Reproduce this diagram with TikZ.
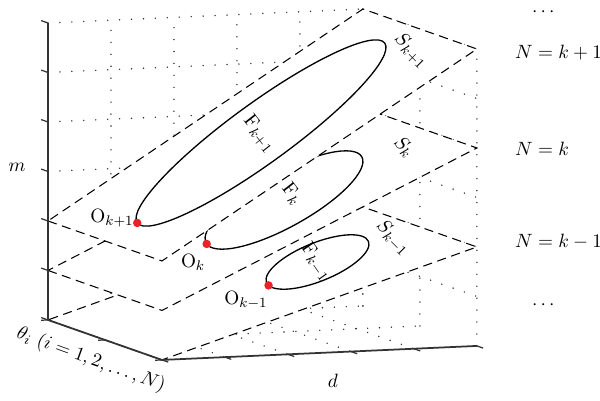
\documentclass[tikz,border=0pt]{standalone}
\usepackage{amsmath}
\definecolor{dotred}{RGB}{235,35,40}
\begin{document}
\begin{tikzpicture}[x=0.02cm,y=-0.02cm,font=\fontsize{11}{13}\selectfont]
\tikzset{
  gridline/.style={draw=black!80, line width=0.9pt, line cap=round, dash pattern=on 0pt off 6.8pt},
  plane/.style={fill=white, draw=black, line width=0.6pt, dash pattern=on 5.2pt off 3.2pt},
  curve/.style={draw=black, line width=0.75pt},
  axisline/.style={draw=black!80, line width=1pt},
  tickline/.style={draw=black!80, line width=0.7pt},
  reddot/.style={fill=dotred},
  lab/.style={inner sep=1pt},
  box3d/.style={shift={(0.96cm,-6.4cm)}, x={(2.28cm,-0.8cm)}, y={(6.3cm,0.28cm)}, z={(0cm,0.99cm)}},
}
\useasboundingbox (0,0) rectangle (600,400);

% ---- background grid on back walls and floor, plus named corners
\begin{scope}[box3d]
  \foreach \d in {0.2,0.4,0.6,0.8,1} \draw[gridline] (0,\d,0) -- (0,\d,6);
  \foreach \zz in {1,...,6} \draw[gridline] (0,0,\zz) -- (0,1,\zz);
  \foreach \t in {0,0.5,1} \draw[gridline] (\t,1,0) -- (\t,1,6);
  \foreach \zz in {1,...,6} \draw[gridline] (0,1,\zz) -- (1,1,\zz);
  \foreach \d in {0.2,0.4,0.6,0.8} \draw[gridline] (0,\d,0) -- (1,\d,0);
  \foreach \t in {0,0.5} \draw[gridline] (\t,0,0) -- (\t,1,0);
  \coordinate (A) at (0,0,0);
  \coordinate (B) at (1,0,0);
  \coordinate (C) at (1,1,0);
  \coordinate (Atop) at (0,0,6);
  \coordinate (p1a) at (0,0,0); \coordinate (p1b) at (1,0,0);
  \coordinate (p1c) at (1,1,2); \coordinate (p1d) at (0,1,2);
  \coordinate (p2a) at (0,0,1); \coordinate (p2b) at (1,0,1);
  \coordinate (p2c) at (1,1,4); \coordinate (p2d) at (0,1,4);
  \coordinate (p3a) at (0,0,2); \coordinate (p3b) at (1,0,2);
  \coordinate (p3c) at (1,1,6); \coordinate (p3d) at (0,1,6);
\end{scope}

% ellipse centres
\coordinate (c1) at (261,133);
\coordinate (c2) at (284,200);
\coordinate (c3) at (317.5,262);

% ---- plane S_{k-1}
\draw[plane] (p1a) -- (p1b) -- (p1c) -- (p1d) -- cycle;
\draw[curve, rotate around={22:(c3)}] (c3) ellipse [x radius=1.1cm, y radius=0.384cm];
\path[rotate around={22:(c3)}] (c3) ++(190:1.1cm and 0.384cm) coordinate (o3);
\fill[reddot] (o3) circle [radius=0.085cm];

% ---- plane S_k
\draw[plane] (p2a) -- (p2b) -- (p2c) -- (p2d) -- cycle;
\draw[curve, rotate around={29:(c2)}] (c2) ellipse [x radius=1.78cm, y radius=0.54cm];
\path[rotate around={29:(c2)}] (c2) ++(182:1.78cm and 0.54cm) coordinate (o2);
\fill[reddot] (o2) circle [radius=0.085cm];

% ---- plane S_{k+1}
\draw[plane] (p3a) -- (p3b) -- (p3c) -- (p3d) -- cycle;
\draw[curve, rotate around={36:(c1)}] (c1) ellipse [x radius=3.06cm, y radius=0.6cm];
\path[rotate around={36:(c1)}] (c1) ++(180:3.06cm and 0.6cm) coordinate (o1);
\fill[reddot] (o1) circle [radius=0.085cm];

% ---- axes and ticks
\draw[axisline] (A) -- (Atop);
\draw[axisline] (A) -- (B) -- (C);
\begin{scope}[box3d]
  \foreach \zz in {0,...,6} \draw[tickline] (0,0,\zz) -- (-0.06,0,\zz);
  \foreach \t in {0,0.5,1} \draw[tickline] (\t,0,0) -- (\t,-0.022,0);
  \foreach \d in {0,0.2,0.4,0.6,0.8,1} \draw[tickline] (1,\d,0) -- (1.055,\d,0);
\end{scope}

% ---- labels
\node[lab] (lm) at (17,167) {$m$};
\node[lab] (ld) at (333,381) {$d$};
\node[lab, rotate=-20] (lth) at (91,360) {$\theta_i\ (i = 1, 2, \ldots, N)$};
\node[lab, rotate=-45] (ls3) at (411,51) {$S_{k+1}$};
\node[lab, rotate=-45] (ls2) at (404,147) {$S_k$};
\node[lab, rotate=-45] (ls1) at (393,238) {$S_{k-1}$};
\node[lab, rotate=-52] (lf3) at (259,134) {$\mathrm{F}_{k+1}$};
\node[lab, rotate=-52] (lf2) at (292,194) {$\mathrm{F}_k$};
\node[lab, rotate=-55] (lf1) at (316,262) {$\mathrm{F}_{k-1}$};
\node[lab] (lo3) at (112,218) {$\mathrm{O}_{k+1}$};
\node[lab] (lo2) at (193,262) {$\mathrm{O}_k$};
\node[lab] (lo1) at (246,300) {$\mathrm{O}_{k-1}$};
\node[inner sep=0pt] (ldt) at (545,12) {$\cdots$};
\node[lab, anchor=west] (ln3) at (513,53) {$N = k + 1$};
\node[lab, anchor=west] (ln2) at (513,149) {$N = k$};
\node[lab, anchor=west] (ln1) at (513,242) {$N = k - 1$};
\node[inner sep=0pt] (ldb) at (545,305) {$\cdots$};
\end{tikzpicture}
\end{document}
